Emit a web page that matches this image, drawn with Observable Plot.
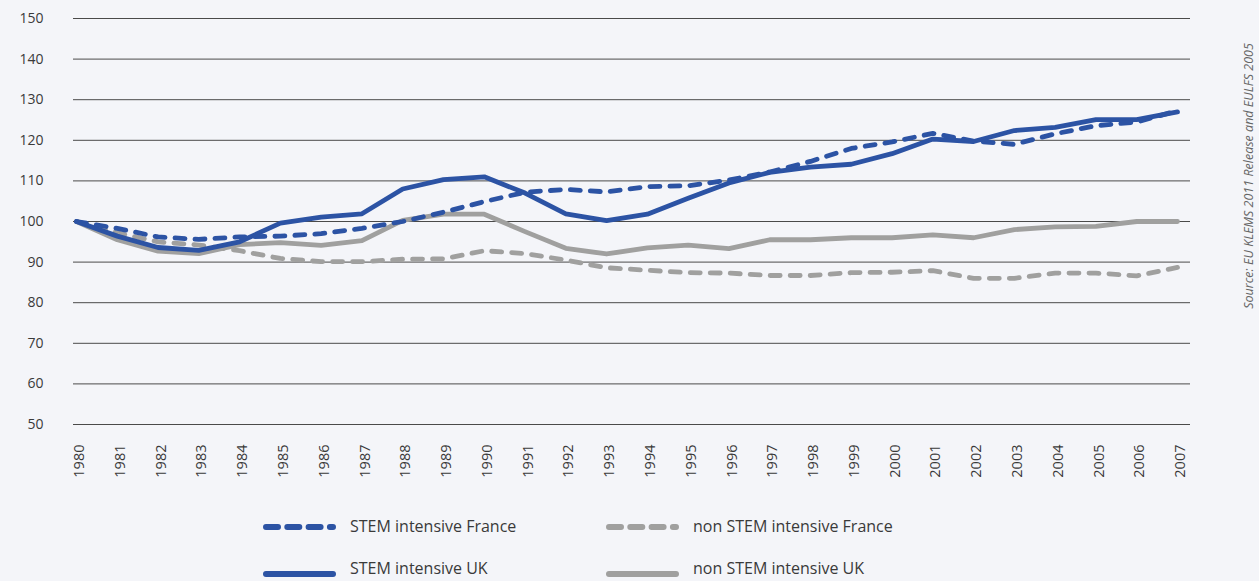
<!DOCTYPE html>
<html><head><meta charset="utf-8">
<script src="https://cdn.jsdelivr.net/npm/d3@7"></script>
<script src="https://cdn.jsdelivr.net/npm/@observablehq/plot@0.6"></script>
<style>
body{margin:0;background:#f4f5f9;font-family:'Open Sans',sans-serif;}
#wrap{position:relative;width:1259px;height:581px;overflow:hidden;}
.leg{position:absolute;font-size:16px;color:#3a3a3a;white-space:nowrap;line-height:20px;}
.sw{position:absolute;}
#source{position:absolute;left:1248px;top:176px;transform:translate(-50%,-50%) rotate(-90deg);font-size:12.5px;font-style:italic;color:#666;white-space:nowrap;}
</style>
</head><body>
<div id="wrap"><div id="chart"></div><div id="legend"></div><div id="source">Source: EU KLEMS 2011 Release and EULFS 2005</div></div>
<script>
const years = [1980,1981,1982,1983,1984,1985,1986,1987,1988,1989,1990,1991,1992,1993,1994,1995,1996,1997,1998,1999,2000,2001,2002,2003,2004,2005,2006,2007];
const yTicks = [50,60,70,80,90,100,110,120,130,140,150];
const stemFrance    = [100,98.3,96.2,95.6,96.2,96.4,97.0,98.3,100.0,102.3,104.9,107.2,107.9,107.3,108.6,108.8,110.2,112.2,114.8,118.0,119.6,121.7,119.8,119.0,121.6,123.6,124.5,127.3];
const stemUK        = [100,96.4,93.6,92.9,95.0,99.6,101.1,101.9,108.0,110.3,111.0,107.0,101.9,100.2,101.8,105.7,109.5,112.1,113.4,114.1,116.7,120.3,119.7,122.4,123.2,125.1,125.1,127.0];
const nonStemFrance = [100,97.2,95.0,94.2,92.8,90.9,90.1,90.1,90.7,90.8,92.8,92.1,90.5,88.6,88.0,87.4,87.3,86.7,86.7,87.4,87.5,87.9,86.0,86.0,87.3,87.3,86.6,88.7];
const nonStemUK     = [100,95.5,92.7,92.1,94.3,94.8,94.1,95.3,100.3,101.8,101.8,97.5,93.4,92.0,93.5,94.2,93.3,95.5,95.5,96.0,96.0,96.7,96.0,98.0,98.7,98.8,100.0,100.0];
const seriesNames = ["STEM intensive France","non STEM intensive France","STEM intensive UK","non STEM intensive UK"];
const blue = "#2c53a4", gray = "#a0a09f";
const series = [
  {name: seriesNames[1], values: nonStemFrance, color: gray, dash: "10,10"},
  {name: seriesNames[3], values: nonStemUK, color: gray, dash: null},
  {name: seriesNames[2], values: stemUK, color: blue, dash: null},
  {name: seriesNames[0], values: stemFrance, color: blue, dash: "10,10"}
];
const lineMarks = series.map(s => Plot.line(years.map((yr,i)=>({year: yr, value: s.values[i]})), {
  x: "year", y: "value", stroke: s.color, strokeWidth: 4.8, strokeDasharray: s.dash || undefined,
  strokeLinecap: "round", strokeLinejoin: "round"
}));
const chart = Plot.plot({
  width: 1259, height: 500,
  marginLeft: 73, marginRight: 69, marginTop: 18, marginBottom: 76,
  style: {background: "transparent", fontFamily: "'Open Sans', sans-serif", color: "#3a3a3a"},
  x: {type: "linear", domain: [1980, 2007], range: [76, 1177]},
  y: {domain: [50, 150]},
  marks: [
    Plot.ruleY(yTicks, {stroke: "#4a4a4a", strokeWidth: 1}),
    Plot.axisY({ticks: yTicks, tickSize: 0, tickPadding: 30, fontSize: 14, label: null}),
    Plot.axisX({ticks: years, tickFormat: d => String(d), tickRotate: -90, tickSize: 0, tickPadding: 20, fontSize: 14.5, dx: 3, label: null}),
    ...lineMarks
  ]
});
document.getElementById("chart").appendChild(chart);

// legend (HTML below the SVG)
const legendItems = [
  {name: seriesNames[0], color: blue, dash: "12,9.3", left: 263, swY: 527, textY: 526.5},
  {name: seriesNames[1], color: gray, dash: "12,9.3", left: 606, swY: 527, textY: 526.5},
  {name: seriesNames[2], color: blue, dash: null, left: 263, swY: 574, textY: 568.5},
  {name: seriesNames[3], color: gray, dash: null, left: 606, swY: 574, textY: 568.5}
];
const legend = document.getElementById("legend");
legendItems.forEach(it => {
  const sw = document.createElement("div");
  sw.className = "sw";
  sw.style.left = it.left + "px";
  sw.style.top = (it.swY - 6) + "px";
  sw.innerHTML = `<svg width="73" height="12" style="display:block"><line x1="3" y1="6" x2="70" y2="6" stroke="${it.color}" stroke-width="6" stroke-linecap="round" ${it.dash ? `stroke-dasharray="${it.dash}"` : ""}/></svg>`;
  legend.appendChild(sw);
  const t = document.createElement("div");
  t.className = "leg";
  t.style.left = (it.left + 87) + "px";
  t.style.top = (it.textY - 11) + "px";
  t.textContent = it.name;
  legend.appendChild(t);
});
</script>
</body></html>
